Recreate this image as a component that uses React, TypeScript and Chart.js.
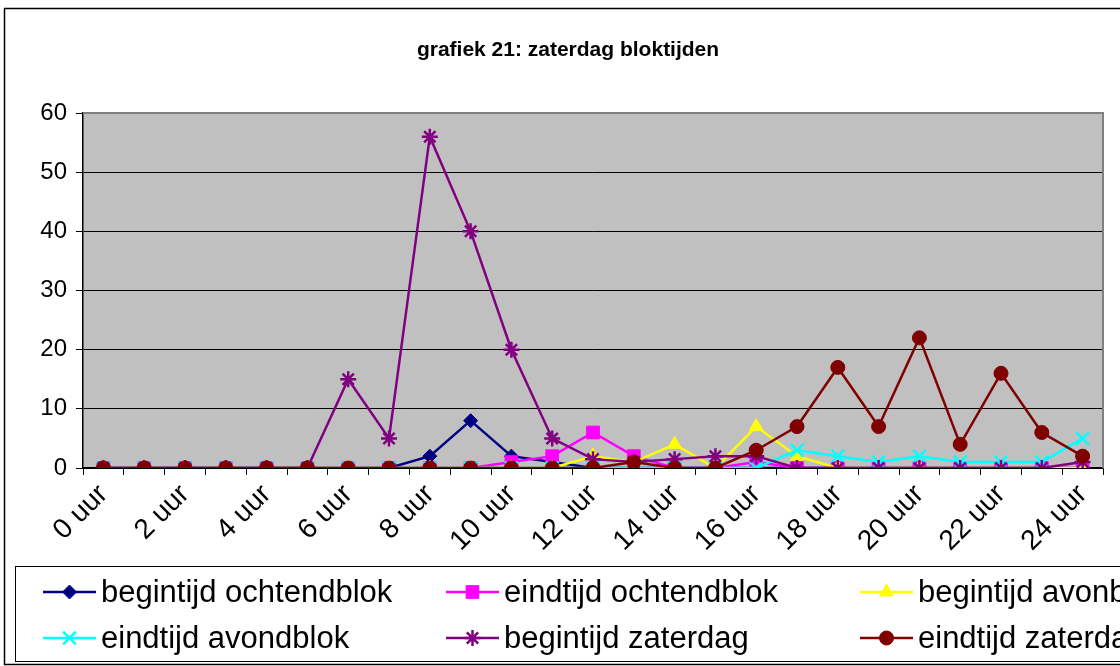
import React, { useEffect, useRef } from "react";
import { Chart, registerables } from "chart.js";
import { drawPoint } from "chart.js/helpers";

Chart.register(...registerables);

const titleText = "grafiek 21: zaterdag bloktijden";

const hourLabels = [
  "0 uur", "1 uur", "2 uur", "3 uur", "4 uur", "5 uur", "6 uur", "7 uur", "8 uur",
  "9 uur", "10 uur", "11 uur", "12 uur", "13 uur", "14 uur", "15 uur", "16 uur",
  "17 uur", "18 uur", "19 uur", "20 uur", "21 uur", "22 uur", "23 uur", "24 uur",
];

const seriesNames = [
  "begintijd ochtendblok",
  "eindtijd ochtendblok",
  "begintijd avonblok",
  "eindtijd avondblok",
  "begintijd zaterdag",
  "eindtijd zaterdag",
];

const begintijdOchtendblok = [0, 0, 0, 0, 0, 0, 0, 0, 2, 8, 2, 1, 0, 0, 0, 0, 0, 0, 0, 0, 0, 0, 0, 0, 0];
const eindtijdOchtendblok = [0, 0, 0, 0, 0, 0, 0, 0, 0, 0, 1, 2, 6, 2, 0, 0, 1, 0, 0, 0, 0, 0, 0, 0, 0];
const begintijdAvondblok = [0, 0, 0, 0, 0, 0, 0, 0, 0, 0, 0, 0, 2, 1, 4, 0, 7, 2, 0, 0, 0, 0, 0, 0, 0];
const eindtijdAvondblok = [0, 0, 0, 0, 0, 0, 0, 0, 0, 0, 0, 0, 0, 0, 0, 0, 0, 3, 2, 1, 2, 1, 1, 1, 5];
const begintijdZaterdag = [0, 0, 0, 0, 0, 0, 15, 5, 56, 40, 20, 5, 1.5, 1, 1.5, 2, 2, 0, 0, 0, 0, 0, 0, 0, 1];
const eindtijdZaterdag = [0, 0, 0, 0, 0, 0, 0, 0, 0, 0, 0, 0, 0, 1, 0, 0, 3, 7, 17, 7, 22, 4, 16, 6, 2];

const seriesValues = [
  begintijdOchtendblok,
  eindtijdOchtendblok,
  begintijdAvondblok,
  eindtijdAvondblok,
  begintijdZaterdag,
  eindtijdZaterdag,
];

const seriesColors = ["#000080", "#FF00FF", "#FFFF00", "#00FFFF", "#800080", "#800000"];
const seriesMarkers = ["rectRot", "rect", "triangle", "crossRot", "star", "circle"];
const markerRadius = [7, 9, 8, 9, 8, 7];

const yMin = 0;
const yMax = 60;
const yStep = 10;

const FONT = '"Liberation Sans", Arial, Helvetica, sans-serif';

const legendColX = [43, 446, 860];
const legendRowY = [592, 638];

const decorPlugin = {
  id: "decor",
  beforeDraw(chart: any) {
    const { ctx, chartArea } = chart;
    ctx.save();
    ctx.fillStyle = "#ffffff";
    ctx.fillRect(0, 0, chart.width, chart.height);
    ctx.fillStyle = "#C0C0C0";
    ctx.fillRect(chartArea.left, chartArea.top, chartArea.right - chartArea.left, chartArea.bottom - chartArea.top);
    ctx.restore();
  },
  beforeDatasetsDraw(chart: any) {
    const { ctx, chartArea } = chart;
    ctx.save();
    ctx.strokeStyle = "#808080";
    ctx.lineWidth = 2;
    ctx.beginPath();
    ctx.moveTo(chartArea.left, chartArea.top);
    ctx.lineTo(chartArea.right, chartArea.top);
    ctx.lineTo(chartArea.right, chartArea.bottom);
    ctx.stroke();
    ctx.restore();
  },
  afterDraw(chart: any) {
    const { ctx } = chart;
    ctx.save();
    // outer frame
    ctx.strokeStyle = "#000000";
    ctx.lineWidth = 1.5;
    ctx.strokeRect(4.5, 8.5, 1300, 656);
    // title
    ctx.fillStyle = "#000000";
    ctx.font = `bold 21px ${FONT}`;
    ctx.textAlign = "center";
    ctx.textBaseline = "middle";
    ctx.fillText(titleText, 568, 50);
    // legend box
    ctx.lineWidth = 1;
    ctx.strokeStyle = "#000000";
    ctx.strokeRect(15.5, 566.5, 1300, 95);
    ctx.font = `31px ${FONT}`;
    ctx.textAlign = "left";
    chart.data.datasets.forEach((ds: any, i: number) => {
      const x0 = legendColX[i % 3];
      const y = legendRowY[Math.floor(i / 3)];
      ctx.strokeStyle = ds.borderColor;
      ctx.lineWidth = 2.5;
      ctx.beginPath();
      ctx.moveTo(x0, y);
      ctx.lineTo(x0 + 53, y);
      ctx.stroke();
      ctx.fillStyle = ds.pointBackgroundColor;
      ctx.strokeStyle = ds.pointBorderColor;
      ctx.lineWidth = ds.pointBorderWidth;
      drawPoint(ctx, { pointStyle: ds.pointStyle, radius: ds.pointRadius, borderWidth: ds.pointBorderWidth, rotation: 0 }, x0 + 26.5, y);
      ctx.fillStyle = "#000000";
      ctx.fillText(ds.label, x0 + 58, y + 1);
    });
    ctx.restore();
  },
};

export default function App() {
  const canvasRef = useRef<HTMLCanvasElement | null>(null);

  useEffect(() => {
    if (!canvasRef.current) return;
    const n = seriesNames.length;
    const datasets = seriesNames.map((name, i) => ({
      label: name,
      data: seriesValues[i],
      borderColor: seriesColors[i],
      backgroundColor: seriesColors[i],
      borderWidth: 2.5,
      pointStyle: seriesMarkers[i],
      pointRadius: markerRadius[i],
      pointHoverRadius: markerRadius[i],
      pointBackgroundColor: seriesColors[i],
      pointBorderColor: seriesColors[i],
      pointBorderWidth: seriesMarkers[i] === "crossRot" || seriesMarkers[i] === "star" ? 2.5 : 1,
      tension: 0,
      fill: false,
      order: n - 1 - i,
    }));

    const chart = new Chart(canvasRef.current, {
      type: "line",
      data: { labels: hourLabels, datasets },
      plugins: [decorPlugin],
      options: {
        animation: false,
        responsive: false,
        devicePixelRatio: 1,
        layout: { padding: { left: 0, right: 37, top: 113, bottom: 108 } },
        plugins: {
          legend: { display: false },
          title: { display: false },
          tooltip: { enabled: false },
        },
        scales: {
          x: {
            type: "category",
            offset: true,
            afterFit: (scale: any) => {
              scale.height = 90;
            },
            grid: {
              offset: true,
              drawOnChartArea: false,
              drawTicks: true,
              tickLength: 7,
              color: "#000000",
              lineWidth: 1,
            },
            border: { display: true, color: "#000000", width: 1.5 },
            ticks: {
              autoSkip: false,
              maxRotation: 45,
              minRotation: 45,
              padding: 3,
              color: "#000000",
              font: { family: FONT, size: 28 },
              callback: (_v: any, i: number) => (i % 2 === 0 ? hourLabels[i] : ""),
            },
          },
          y: {
            min: yMin,
            max: yMax,
            afterFit: (scale: any) => {
              scale.width = 83;
            },
            grid: {
              color: "#000000",
              lineWidth: 1,
              drawTicks: true,
              tickLength: 7,
            },
            border: { display: true, color: "#000000", width: 1.5 },
            ticks: {
              stepSize: yStep,
              padding: 9,
              color: "#000000",
              font: { family: FONT, size: 24 },
            },
          },
        },
      },
    });
    return () => chart.destroy();
  }, []);

  return (
    <div
      style={{
        position: "absolute",
        left: 0,
        top: 0,
        width: 1120,
        height: 666,
        overflow: "hidden",
        background: "#ffffff",
      }}
    >
      <canvas ref={canvasRef} width={1140} height={666} style={{ display: "block" }} />
    </div>
  );
}
